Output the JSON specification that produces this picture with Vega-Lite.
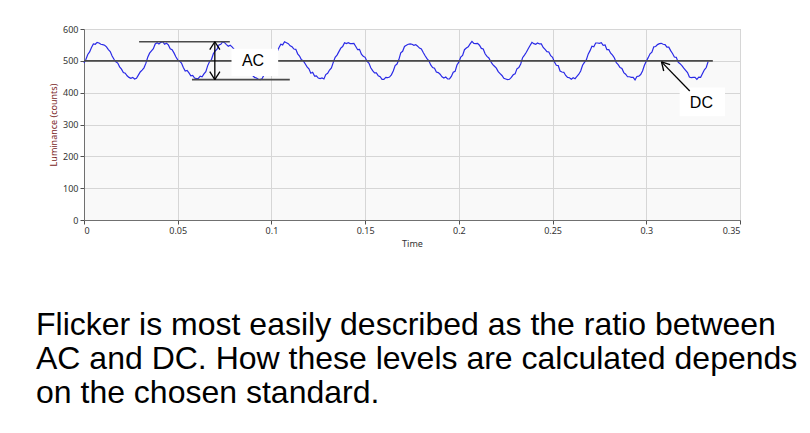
{
"$schema":"https://vega.github.io/schema/vega-lite/v6.json",
"width":656,"height":191,
"autosize":{"type":"none"},
"padding":{"left":84,"top":29,"right":70,"bottom":213},
"background":"white",
"title":{"text":["Flicker is most easily described as the ratio between","AC and DC. How these levels are calculated depends","on the chosen standard."],"orient":"bottom","anchor":"start","frame":"group","dx":-48,"offset":62,"font":"Liberation Sans","fontSize":32,"fontWeight":"normal","color":"#000000","lineHeight":34,"baseline":"top"},
"datasets":{
"wave":[
{"t":0,"v":493},{"t":0.001,"v":504},{"t":0.002,"v":520},{"t":0.003,"v":528},{"t":0.004,"v":542},{"t":0.005,"v":553},{"t":0.006,"v":552},{"t":0.007,"v":558},{"t":0.008,"v":556},{"t":0.009,"v":552},
{"t":0.010,"v":551},{"t":0.011,"v":549},{"t":0.012,"v":544},{"t":0.013,"v":535},{"t":0.014,"v":529},{"t":0.015,"v":515},{"t":0.016,"v":505},{"t":0.017,"v":497},{"t":0.018,"v":493},{"t":0.019,"v":481},
{"t":0.020,"v":474},{"t":0.021,"v":463},{"t":0.022,"v":461},{"t":0.023,"v":453},{"t":0.024,"v":448},{"t":0.025,"v":445},{"t":0.026,"v":448},{"t":0.027,"v":443},{"t":0.028,"v":445},{"t":0.029,"v":455},
{"t":0.030,"v":465},{"t":0.031,"v":471},{"t":0.032,"v":478},{"t":0.033,"v":492},{"t":0.034,"v":511},{"t":0.035,"v":524},{"t":0.036,"v":531},{"t":0.037,"v":538},{"t":0.038,"v":553},{"t":0.039,"v":557},
{"t":0.040,"v":553},{"t":0.041,"v":558},{"t":0.042,"v":560},{"t":0.043,"v":552},{"t":0.044,"v":555},{"t":0.045,"v":550},{"t":0.046,"v":538},{"t":0.047,"v":535},{"t":0.048,"v":525},{"t":0.049,"v":513},
{"t":0.050,"v":503},{"t":0.051,"v":499},{"t":0.052,"v":493},{"t":0.053,"v":479},{"t":0.054,"v":468},{"t":0.055,"v":470},{"t":0.056,"v":462},{"t":0.057,"v":453},{"t":0.058,"v":454},{"t":0.059,"v":446},
{"t":0.060,"v":444},{"t":0.061,"v":445},{"t":0.062,"v":452},{"t":0.063,"v":450},{"t":0.064,"v":459},{"t":0.065,"v":466},{"t":0.066,"v":485},{"t":0.067,"v":498},{"t":0.068,"v":504},{"t":0.069,"v":522},
{"t":0.070,"v":531},{"t":0.071,"v":537},{"t":0.072,"v":550},{"t":0.073,"v":552},{"t":0.074,"v":560},{"t":0.075,"v":557},{"t":0.076,"v":551},{"t":0.077,"v":546},{"t":0.078,"v":549},{"t":0.079,"v":544},
{"t":0.080,"v":537},{"t":0.081,"v":528},{"t":0.082,"v":518},{"t":0.083,"v":505},{"t":0.084,"v":502},{"t":0.085,"v":485},{"t":0.086,"v":480},{"t":0.087,"v":472},{"t":0.088,"v":469},{"t":0.089,"v":457},
{"t":0.090,"v":454},{"t":0.091,"v":448},{"t":0.092,"v":446},{"t":0.093,"v":442},{"t":0.094,"v":441},{"t":0.095,"v":444},{"t":0.096,"v":455},{"t":0.097,"v":456},{"t":0.098,"v":472},{"t":0.099,"v":485},
{"t":0.100,"v":499},{"t":0.101,"v":511},{"t":0.102,"v":518},{"t":0.103,"v":528},{"t":0.104,"v":541},{"t":0.105,"v":552},{"t":0.106,"v":550},{"t":0.107,"v":560},{"t":0.108,"v":557},{"t":0.109,"v":554},
{"t":0.110,"v":547},{"t":0.111,"v":544},{"t":0.112,"v":537},{"t":0.113,"v":536},{"t":0.114,"v":522},{"t":0.115,"v":515},{"t":0.116,"v":503},{"t":0.117,"v":500},{"t":0.118,"v":491},{"t":0.119,"v":481},
{"t":0.120,"v":475},{"t":0.121,"v":461},{"t":0.122,"v":464},{"t":0.123,"v":452},{"t":0.124,"v":453},{"t":0.125,"v":446},{"t":0.126,"v":444},{"t":0.127,"v":446},{"t":0.128,"v":443},{"t":0.129,"v":457},
{"t":0.130,"v":461},{"t":0.131,"v":471},{"t":0.132,"v":478},{"t":0.133,"v":495},{"t":0.134,"v":511},{"t":0.135,"v":518},{"t":0.136,"v":529},{"t":0.137,"v":540},{"t":0.138,"v":545},{"t":0.139,"v":557},
{"t":0.140,"v":554},{"t":0.141,"v":557},{"t":0.142,"v":554},{"t":0.143,"v":554},{"t":0.144,"v":555},{"t":0.145,"v":545},{"t":0.146,"v":535},{"t":0.147,"v":536},{"t":0.148,"v":521},{"t":0.149,"v":514},
{"t":0.150,"v":511},{"t":0.151,"v":498},{"t":0.152,"v":493},{"t":0.153,"v":478},{"t":0.154,"v":469},{"t":0.155,"v":462},{"t":0.156,"v":462},{"t":0.157,"v":453},{"t":0.158,"v":450},{"t":0.159,"v":442},
{"t":0.160,"v":442},{"t":0.161,"v":448},{"t":0.162,"v":447},{"t":0.163,"v":449},{"t":0.164,"v":456},{"t":0.165,"v":468},{"t":0.166,"v":485},{"t":0.167,"v":490},{"t":0.168,"v":504},{"t":0.169,"v":525},
{"t":0.170,"v":530},{"t":0.171,"v":545},{"t":0.172,"v":549},{"t":0.173,"v":552},{"t":0.174,"v":553},{"t":0.175,"v":552},{"t":0.176,"v":549},{"t":0.177,"v":551},{"t":0.178,"v":546},{"t":0.179,"v":540},
{"t":0.180,"v":537},{"t":0.181,"v":526},{"t":0.182,"v":516},{"t":0.183,"v":507},{"t":0.184,"v":500},{"t":0.185,"v":487},{"t":0.186,"v":479},{"t":0.187,"v":477},{"t":0.188,"v":465},{"t":0.189,"v":463},
{"t":0.190,"v":458},{"t":0.191,"v":450},{"t":0.192,"v":446},{"t":0.193,"v":449},{"t":0.194,"v":443},{"t":0.195,"v":443},{"t":0.196,"v":451},{"t":0.197,"v":464},{"t":0.198,"v":467},{"t":0.199,"v":487},
{"t":0.200,"v":496},{"t":0.201,"v":512},{"t":0.202,"v":517},{"t":0.203,"v":535},{"t":0.204,"v":540},{"t":0.205,"v":544},{"t":0.206,"v":553},{"t":0.207,"v":561},{"t":0.208,"v":555},{"t":0.209,"v":554},
{"t":0.210,"v":555},{"t":0.211,"v":549},{"t":0.212,"v":539},{"t":0.213,"v":537},{"t":0.214,"v":522},{"t":0.215,"v":514},{"t":0.216,"v":509},{"t":0.217,"v":498},{"t":0.218,"v":489},{"t":0.219,"v":483},
{"t":0.220,"v":477},{"t":0.221,"v":466},{"t":0.222,"v":460},{"t":0.223,"v":454},{"t":0.224,"v":445},{"t":0.225,"v":443},{"t":0.226,"v":441},{"t":0.227,"v":442},{"t":0.228,"v":448},{"t":0.229,"v":456},
{"t":0.230,"v":459},{"t":0.231,"v":475},{"t":0.232,"v":479},{"t":0.233,"v":490},{"t":0.234,"v":510},{"t":0.235,"v":518},{"t":0.236,"v":527},{"t":0.237,"v":538},{"t":0.238,"v":548},{"t":0.239,"v":558},
{"t":0.240,"v":554},{"t":0.241,"v":552},{"t":0.242,"v":556},{"t":0.243,"v":553},{"t":0.244,"v":553},{"t":0.245,"v":542},{"t":0.246,"v":536},{"t":0.247,"v":529},{"t":0.248,"v":528},{"t":0.249,"v":516},
{"t":0.250,"v":511},{"t":0.251,"v":496},{"t":0.252,"v":486},{"t":0.253,"v":485},{"t":0.254,"v":468},{"t":0.255,"v":465},{"t":0.256,"v":464},{"t":0.257,"v":454},{"t":0.258,"v":448},{"t":0.259,"v":447},
{"t":0.260,"v":442},{"t":0.261,"v":447},{"t":0.262,"v":444},{"t":0.263,"v":451},{"t":0.264,"v":458},{"t":0.265,"v":468},{"t":0.266,"v":486},{"t":0.267,"v":495},{"t":0.268,"v":503},{"t":0.269,"v":521},
{"t":0.270,"v":532},{"t":0.271,"v":546},{"t":0.272,"v":544},{"t":0.273,"v":556},{"t":0.274,"v":556},{"t":0.275,"v":555},{"t":0.276,"v":557},{"t":0.277,"v":549},{"t":0.278,"v":550},{"t":0.279,"v":535},
{"t":0.280,"v":535},{"t":0.281,"v":524},{"t":0.282,"v":518},{"t":0.283,"v":509},{"t":0.284,"v":494},{"t":0.285,"v":488},{"t":0.286,"v":479},{"t":0.287,"v":476},{"t":0.288,"v":463},{"t":0.289,"v":458},
{"t":0.290,"v":450},{"t":0.291,"v":450},{"t":0.292,"v":448},{"t":0.293,"v":448},{"t":0.294,"v":440},{"t":0.295,"v":451},{"t":0.296,"v":452},{"t":0.297,"v":457},{"t":0.298,"v":468},{"t":0.299,"v":486},
{"t":0.300,"v":499},{"t":0.301,"v":510},{"t":0.302,"v":522},{"t":0.303,"v":527},{"t":0.304,"v":544},{"t":0.305,"v":545},{"t":0.306,"v":551},{"t":0.307,"v":554},{"t":0.308,"v":555},{"t":0.309,"v":552},
{"t":0.310,"v":551},{"t":0.311,"v":543},{"t":0.312,"v":543},{"t":0.313,"v":532},{"t":0.314,"v":523},{"t":0.315,"v":512},{"t":0.316,"v":511},{"t":0.317,"v":496},{"t":0.318,"v":491},{"t":0.319,"v":485},
{"t":0.320,"v":477},{"t":0.321,"v":470},{"t":0.322,"v":463},{"t":0.323,"v":449},{"t":0.324,"v":447},{"t":0.325,"v":448},{"t":0.326,"v":448},{"t":0.327,"v":442},{"t":0.328,"v":449},{"t":0.329,"v":448},
{"t":0.330,"v":460},{"t":0.331,"v":472},{"t":0.332,"v":479},{"t":0.333,"v":498}
],
"levels":[
{"part":"DC level","x":0,"x2":0.3355,"y":500,"y2":500},
{"part":"AC max","x":0.0294,"x2":0.0778,"y":560,"y2":560},
{"part":"AC min","x":0.0576,"x2":0.1098,"y":441,"y2":441}
],
"arrows":[
{"part":"AC span","x":0.0698,"x2":0.0698,"y":441,"y2":560},
{"part":"AC head top","x":0.0671,"x2":0.0698,"y":535,"y2":560},
{"part":"AC head top","x":0.0725,"x2":0.0698,"y":535,"y2":560},
{"part":"AC head bottom","x":0.0671,"x2":0.0698,"y":466,"y2":441},
{"part":"AC head bottom","x":0.0725,"x2":0.0698,"y":466,"y2":441},
{"part":"DC pointer","x":0.3232,"x2":0.3081,"y":405,"y2":496.7},
{"part":"DC head","x":0.3093,"x2":0.3081,"y":468,"y2":496.7},
{"part":"DC head","x":0.3127,"x2":0.3081,"y":488,"y2":496.7}
],
"boxes":[
{"label":"AC","x":0.0787,"x2":0.1036,"y":452,"y2":538,"tx":0.0902,"ty":500},
{"label":"DC","x":0.3178,"x2":0.342,"y":326,"y2":416,"tx":0.3294,"ty":368}
]
},
"layer":[
{"data":{"name":"wave"},"mark":{"type":"line","color":"#2a2ae6","strokeWidth":1.2,"interpolate":"linear"},
"encoding":{"x":{"field":"t","type":"quantitative","title":"Time","scale":{"domain":[0,0.35],"nice":false,"zero":false},"axis":{"values":[0,0.05,0.1,0.15,0.2,0.25,0.3,0.35],"format":"~g"}},
"y":{"field":"v","type":"quantitative","title":"Luminance (counts)","scale":{"domain":[0,600],"nice":false},"axis":{"values":[0,100,200,300,400,500,600],"tickCount":7,"titleColor":"#7a1e1e","titlePadding":4}}}},
{"data":{"name":"levels"},"mark":{"type":"rule","color":"#4a4a4a","strokeWidth":1.6},
"encoding":{"x":{"field":"x","type":"quantitative","title":"Time","axis":{"values":[0,0.05,0.1,0.15,0.2,0.25,0.3,0.35],"format":"~g"}},"x2":{"field":"x2"},"y":{"field":"y","type":"quantitative","title":"Luminance (counts)","axis":{"values":[0,100,200,300,400,500,600],"tickCount":7,"titleColor":"#7a1e1e","titlePadding":4}},"y2":{"field":"y2"}}},
{"data":{"name":"boxes"},"mark":{"type":"rect","fill":"#ffffff","stroke":null},
"encoding":{"x":{"field":"x","type":"quantitative","title":"Time","axis":{"values":[0,0.05,0.1,0.15,0.2,0.25,0.3,0.35],"format":"~g"}},"x2":{"field":"x2"},"y":{"field":"y","type":"quantitative","title":"Luminance (counts)","axis":{"values":[0,100,200,300,400,500,600],"tickCount":7,"titleColor":"#7a1e1e","titlePadding":4}},"y2":{"field":"y2"}}},
{"data":{"name":"arrows"},"mark":{"type":"rule","color":"#000000","strokeWidth":1.3},
"encoding":{"x":{"field":"x","type":"quantitative","title":"Time","axis":{"values":[0,0.05,0.1,0.15,0.2,0.25,0.3,0.35],"format":"~g"}},"x2":{"field":"x2"},"y":{"field":"y","type":"quantitative","title":"Luminance (counts)","axis":{"values":[0,100,200,300,400,500,600],"tickCount":7,"titleColor":"#7a1e1e","titlePadding":4}},"y2":{"field":"y2"}}},
{"data":{"name":"boxes"},"mark":{"type":"text","font":"Liberation Sans","fontSize":16,"color":"#000000","align":"center","baseline":"middle"},
"encoding":{"x":{"field":"tx","type":"quantitative","title":"Time","axis":{"values":[0,0.05,0.1,0.15,0.2,0.25,0.3,0.35],"format":"~g"}},"y":{"field":"ty","type":"quantitative","title":"Luminance (counts)","axis":{"values":[0,100,200,300,400,500,600],"tickCount":7,"titleColor":"#7a1e1e","titlePadding":4}},"text":{"field":"label"}}}
],
"config":{
"view":{"fill":"#f9f9f9","stroke":"#b8b8b8","strokeWidth":1},
"axis":{"grid":true,"gridColor":"#d6d6d6","gridWidth":1,"domainColor":"#707070","tickColor":"#505050","tickSize":4,"labelFont":"Noto Sans","labelFontSize":9,"labelColor":"#333333","titleFont":"Noto Sans","titleFontSize":9,"titleFontWeight":"normal","titleColor":"#333333","labelPadding":2,"labelOverlap":false},
"axisX":{"titlePadding":4}
}
}
